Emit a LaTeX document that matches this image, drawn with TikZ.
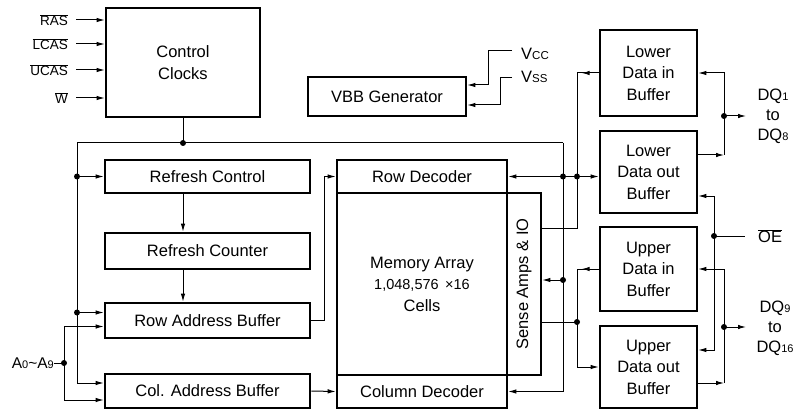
\documentclass[tikz,border=0pt]{standalone}
\usepackage{fontspec}
\setmainfont{Liberation Sans}
\usetikzlibrary{arrows.meta, positioning, calc}
\newcommand{\barra}[1]{$\overline{\mbox{#1}}$}
\newcommand{\sub}[1]{\raisebox{-0.5pt}{\fontsize{11}{11}\selectfont #1}}
\newcommand{\chica}[1]{{\fontsize{11.5}{12}\selectfont #1}}

\begin{document}
\begin{tikzpicture}[x=1pt, y=-1pt,
            bloque/.style={rectangle, draw, line width=2.6pt, align=center, inner sep=0pt, font=\fontsize{16.5}{21.5}\selectfont},
            etiq/.style={inner sep=0pt, align=center, font=\fontsize{16.5}{20}\selectfont},
            entrada/.style={inner sep=0pt, font=\fontsize{13.5}{16}\selectfont},
            linea/.style={line width=1pt},
            flecha/.style={-{Latex[length=8pt, width=4.5pt]}, line width=1pt}]

            \useasboundingbox (0,0) rectangle (795,409);

            % bloques de control
            \node[bloque, minimum width=154pt, minimum height=109pt] (cc) at (183,62.5) {Control\\Clocks};
            \node[bloque, minimum width=158pt, minimum height=39pt] (vbb) at (387,96.5) {VBB Generator};
            \node[bloque, minimum width=205pt, minimum height=33pt] (rfc) at (207.5,176.5) {Refresh Control};
            \node[bloque, minimum width=205pt, minimum height=36pt] (rcnt) at (207.5,251) {Refresh Counter};
            \node[bloque, minimum width=205pt, minimum height=35pt] (rab) at (207.5,320.5) {Row Address Buffer};
            \node[bloque, minimum width=205pt, minimum height=34pt] (cab) at (207.5,391) {Col. Address Buffer};

            % matriz de memoria
            \node[bloque, minimum width=170pt, minimum height=33pt] (rdec) at (422,176.5) {Row Decoder};
            \node[bloque, minimum width=170pt, minimum height=182pt] (mem) at (422,284) {Memory Array\\{\fontsize{14.5}{16}\selectfont 1,048,576\hspace{0.45em}×16}\\Cells};
            \node[bloque, minimum width=170pt, minimum height=33pt] (cdec) at (422,391.5) {Column Decoder};
            \node[bloque, minimum width=34pt, minimum height=182pt] (sa) at (524,284) {};
            \node[etiq, rotate=90] (satxt) at (sa.center) {Sense Amps \& IO};

            % buffers de datos
            \node[bloque, minimum width=97pt, minimum height=86pt] (ldin) at (648.5,73) {Lower\\Data in\\Buffer};
            \node[bloque, minimum width=97pt, minimum height=82pt] (ldout) at (648.5,172) {Lower\\Data out\\Buffer};
            \node[bloque, minimum width=97pt, minimum height=84pt] (udin) at (648.5,269) {Upper\\Data in\\Buffer};
            \node[bloque, minimum width=97pt, minimum height=82pt] (udout) at (648.5,367) {Upper\\Data out\\Buffer};

            % entradas de control
            \node[entrada, anchor=east] (ras) at (68,20) {\barra{RAS}};
            \node[entrada, anchor=east] (lcas) at (68,44) {\barra{LCAS}};
            \node[entrada, anchor=east] (ucas) at (68,70) {\barra{UCAS}};
            \node[entrada, anchor=east] (w) at (68,98) {\barra{W}};
            \draw[flecha] ([xshift=8pt]ras.east) -- (ras.east -| cc.west);
            \draw[flecha] ([xshift=8pt]lcas.east) -- (lcas.east -| cc.west);
            \draw[flecha] ([xshift=8pt]ucas.east) -- (ucas.east -| cc.west);
            \draw[flecha] ([xshift=8pt]w.east) -- (w.east -| cc.west);

            % alimentacion
            \coordinate (pcc) at (512,51);
            \coordinate (pss) at (512,78);
            \node[etiq, anchor=west] (vcc) at (521,54) {V\chica{CC}};
            \node[etiq, anchor=west] (vss) at (521,77) {V\chica{SS}};
            \draw[flecha] (pcc) -- ++(-24,0) |- ([yshift=11.5pt]vbb.east);
            \draw[flecha] (pss) -- ++(-12,0) |- ([yshift=-8.5pt]vbb.east);

            % bus de relojes
            \coordinate (bi) at (77,143);
            \coordinate (bd) at (563,143);
            \coordinate (rabin) at ([yshift=8pt]rab.west);
            \draw[linea] (cc.south) -- (cc.south |- bi);
            \draw[linea] (bi) -- (bd);
            \draw[flecha] (bi) |- ([yshift=8pt]cab.west);
            \draw[flecha] (bi |- rfc.west) -- (rfc.west);
            \draw[flecha] (bi |- rabin) -- (rabin);
            \draw[flecha] (rfc.south -| cc.south) -- (rcnt.north -| cc.south);
            \draw[flecha] (rcnt.south -| cc.south) -- (rab.north -| cc.south);

            % direcciones
            \node[etiq, anchor=east, font=\fontsize{15.5}{18}\selectfont] (adr) at (54,363) {A\sub{0}\textasciitilde A\sub{9}};
            \coordinate (da) at (64,363);
            \draw[linea] (adr.east) -- (da);
            \draw[flecha] (da) |- ([yshift=-6pt]rab.west);
            \draw[flecha] (da) |- ([yshift=-9pt]cab.west);
            \draw[flecha] (rab.east) -- ++(13,0) |- (rdec.west);
            \draw[flecha] (cab.east) -- (cdec.west);

            % lado derecho de la matriz
            \coordinate (li) at (577,228);
            \coordinate (ui) at (577,322);
            \coordinate (sx) at (563,280);
            \draw[flecha] (bd) |- (cdec.east);
            \draw[flecha] (bd |- rdec.east) -- (rdec.east);
            \draw[flecha] (bd |- rdec.east) -- (ldout.west |- rdec.east);
            \draw[flecha] (sx) -- (sx -| sa.east);
            \draw[linea] (ldin.west) -| (li) -- (li -| sa.east);
            \draw[flecha] (ldin.west) -- ++(-17,0);
            \draw[flecha] (udin.west) -| (li |- udout.west) -- (udout.west);
            \draw[flecha] (udin.west) -- ++(-17,0);
            \draw[linea] (ui -| sa.east) -- (ui);

            % DQ y OE
            \coordinate (q1) at (724,116);
            \coordinate (q2) at (724,327);
            \coordinate (oex) at (714,236);
            \draw[flecha] (q1) |- (ldin.east);
            \draw[flecha] ([yshift=17pt]ldout.east) -- ([yshift=17pt]ldout.east -| q1);
            \draw[linea] ([yshift=17pt]ldout.east -| q1) -- (q1);
            \draw[flecha] (q1) -- ++(22,0);
            \draw[flecha] (q2) |- (udin.east);
            \draw[flecha] ([yshift=-16pt]udout.east) -- ([yshift=-16pt]udout.east -| q2);
            \draw[linea] ([yshift=-16pt]udout.east -| q2) -- (q2);
            \draw[flecha] (q2) -- ++(22,0);
            \node[etiq] (dq1) at (773,116) {DQ\sub{1}\\to\\DQ\sub{8}};
            \node[etiq] (dq9) at (775,328) {DQ\sub{9}\\to\\DQ\sub{16}};
            \node[etiq, anchor=west] (oe) at (758,236) {\barra{OE}};
            \draw[linea] (oex) -- ([xshift=-13pt]oe.west);
            \draw[flecha] (oex) |- ([yshift=-24pt]ldout.east);
            \draw[flecha] (oex) |- ([yshift=17pt]udout.east);

            % puntos de union
            \fill (cc.south |- bi) circle (3pt);
            \fill (bi |- rfc.west) circle (3pt);
            \fill (bi |- rabin) circle (3pt);
            \fill (da) circle (3pt);
            \fill (bd |- rdec.east) circle (3pt);
            \fill (li |- rdec.east) circle (3pt);
            \fill (sx) circle (3pt);
            \fill (ui) circle (3pt);
            \fill (q1) circle (3pt);
            \fill (q2) circle (3pt);
            \fill (oex) circle (3pt);
        \end{tikzpicture}
\end{document}
